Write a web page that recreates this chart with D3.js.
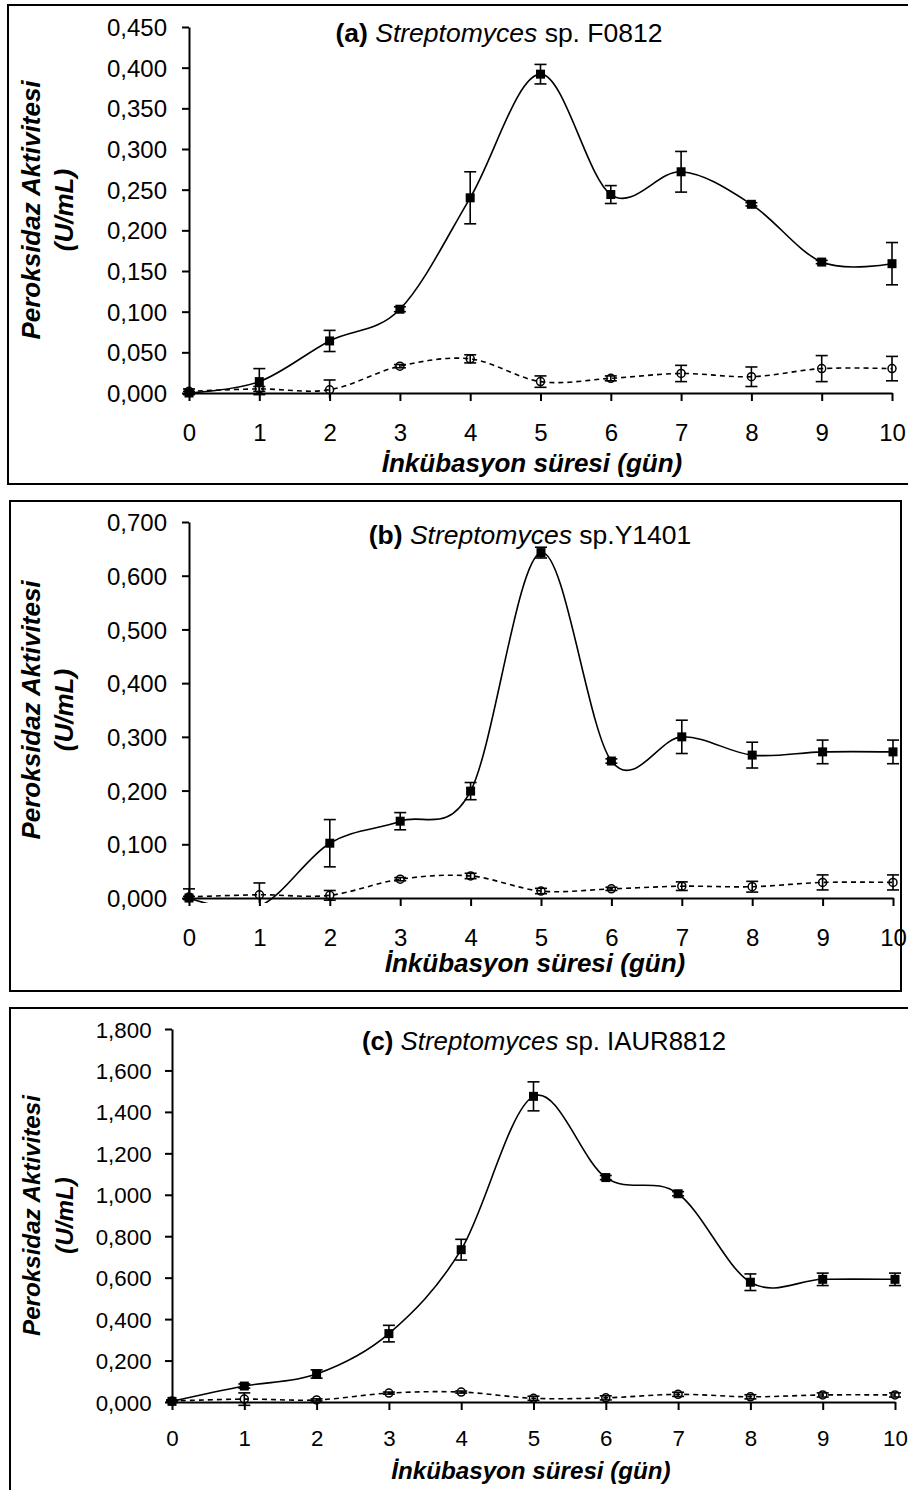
<!DOCTYPE html>
<html lang="en">
  <head>
    <meta charset="utf-8" />
    <title>Peroksidaz Aktivitesi</title>
    <script src="https://d3js.org/d3.v7.min.js"></script>
    <style>
      body {
        margin: 0;
        background-color: #ffffff;
      }
      svg text {
        font-family: "Liberation Sans", Arial, sans-serif;
        fill: #000;
      }
    </style>
  </head>

  <body>
    <div id="chart"></div>

    <script>
      // incubation days
      const days = [0, 1, 2, 3, 4, 5, 6, 7, 8, 9, 10];

      // (a) Streptomyces sp. F0812
      const aFilled = [0.000, 0.014, 0.064, 0.103, 0.240, 0.392, 0.244, 0.272, 0.232, 0.161, 0.159];
      const aFilledErr = [0.002, 0.016, 0.013, 0.003, 0.032, 0.012, 0.011, 0.025, 0.002, 0.002, 0.026];
      const aOpen = [0.002, 0.005, 0.004, 0.033, 0.042, 0.014, 0.018, 0.024, 0.020, 0.030, 0.030];
      const aOpenErr = [0.003, 0.003, 0.012, 0.002, 0.005, 0.007, 0.003, 0.010, 0.012, 0.016, 0.015];

      // (b) Streptomyces sp. Y1401
      const bFilled = [0.000, -0.015, 0.102, 0.143, 0.199, 0.643, 0.255, 0.300, 0.266, 0.272, 0.272];
      const bFilledErr = [0.003, 0.003, 0.044, 0.016, 0.016, 0.010, 0.004, 0.031, 0.024, 0.022, 0.022];
      const bOpen = [0.002, 0.006, 0.005, 0.035, 0.041, 0.013, 0.017, 0.022, 0.021, 0.029, 0.029];
      const bOpenErr = [0.015, 0.022, 0.009, 0.003, 0.005, 0.005, 0.003, 0.008, 0.010, 0.014, 0.014];

      // (c) Streptomyces sp. IAUR8812
      const cFilled = [0.003, 0.077, 0.135, 0.330, 0.735, 1.475, 1.083, 1.005, 0.578, 0.592, 0.592];
      const cFilledErr = [0.005, 0.010, 0.020, 0.040, 0.050, 0.070, 0.010, 0.010, 0.040, 0.030, 0.030];
      const cOpen = [0.005, 0.014, 0.010, 0.043, 0.048, 0.018, 0.020, 0.037, 0.025, 0.034, 0.034];
      const cOpenErr = [0.005, 0.030, 0.005, 0.005, 0.005, 0.010, 0.010, 0.010, 0.010, 0.010, 0.010];

      const yLabel1 = "Peroksidaz Aktivitesi";
      const yLabel2 = "(U/mL)";
      const xLabel = "İnkübasyon süresi (gün)";

      const panels = [
        {
          id: "a", tag: "(a)", strain: "sp. F0812",
          filled: aFilled, filledErr: aFilledErr, open: aOpen, openErr: aOpenErr,
          yMax: 0.45, yStep: 0.05,
          frame: { x: 8, y: 5, w: 910, h: 479 },
          left: 189, right: 892, top: 27, bottom: 393,
          titleX: 499, titleY: 42, titleFs: 26.5, xTitleX: 532, xTitleY: 472,
          fs: 1
        },
        {
          id: "b", tag: "(b)", strain: "sp.Y1401",
          filled: bFilled, filledErr: bFilledErr, open: bOpen, openErr: bOpenErr,
          yMax: 0.7, yStep: 0.1,
          frame: { x: 10, y: 501, w: 891, h: 490 },
          left: 189, right: 893, top: 522, bottom: 898,
          titleX: 530, titleY: 544, titleFs: 26.5, xTitleX: 535, xTitleY: 972,
          fs: 1
        },
        {
          id: "c", tag: "(c)", strain: "sp. IAUR8812",
          filled: cFilled, filledErr: cFilledErr, open: cOpen, openErr: cOpenErr,
          yMax: 1.8, yStep: 0.2,
          frame: { x: 10, y: 1008, w: 910, h: 500 },
          left: 172, right: 895, top: 1029, bottom: 1402,
          titleX: 544, titleY: 1050, titleFs: 25.8, xTitleX: 531, xTitleY: 1479,
          fs: 0.93
        }
      ];

      const svg = d3
        .select("#chart")
        .append("svg")
        .attr("width", 908)
        .attr("height", 1490);

      const fmt = (v) => d3.format(".3f")(v).replace(".", ",");

      panels.forEach((p) => {
        const g = svg.append("g");

        // outer frame
        g.append("rect")
          .attr("x", p.frame.x)
          .attr("y", p.frame.y)
          .attr("width", p.frame.w)
          .attr("height", p.frame.h)
          .attr("fill", "none")
          .attr("stroke", "#000")
          .attr("stroke-width", 2);

        const x = d3.scaleLinear().domain([0, 10]).range([p.left, p.right]);
        const y = d3.scaleLinear().domain([0, p.yMax]).range([p.bottom, p.top]);

        const yTicks = d3.range(0, p.yMax + p.yStep / 2, p.yStep);
        const tickFont = 24 * p.fs + "px";

        // y axis
        const yAxis = g
          .append("g")
          .attr("transform", `translate(${p.left},0)`)
          .call(d3.axisLeft(y).tickValues(yTicks).tickSize(7).tickSizeOuter(0).tickFormat(fmt));
        yAxis.select(".domain").attr("stroke-width", 2);
        yAxis.selectAll(".tick line").attr("stroke-width", 2);
        yAxis.selectAll(".tick text")
          .attr("x", -22 * p.fs)
          .attr("dy", "0.36em")
          .style("font-size", tickFont)
          .style("font-family", "'Liberation Sans', Arial, sans-serif");

        // x axis
        const xAxis = g
          .append("g")
          .attr("transform", `translate(0,${p.bottom})`)
          .call(d3.axisBottom(x).tickValues(days).tickSize(8).tickSizeOuter(0).tickFormat(d3.format("d")));
        xAxis.select(".domain").attr("stroke-width", 2);
        xAxis.selectAll(".tick line").attr("stroke-width", 2);
        xAxis.selectAll(".tick text")
          .attr("y", 39 * p.fs)
          .attr("dy", "0.36em")
          .style("font-size", tickFont)
          .style("font-family", "'Liberation Sans', Arial, sans-serif");

        // title
        const title = g.append("text")
          .attr("x", p.titleX)
          .attr("y", p.titleY)
          .attr("text-anchor", "middle")
          .style("font-size", p.titleFs + "px");
        title.append("tspan").style("font-weight", "bold").text(p.tag + " ");
        title.append("tspan").style("font-style", "italic").text("Streptomyces");
        title.append("tspan").text("  " + p.strain);

        // y axis title (two lines)
        const yc = (p.top + p.bottom) / 2;
        [[yLabel1, 30], [yLabel2, 63]].forEach(([txt, cx]) => {
          g.append("text")
            .attr("transform", `translate(${cx + 9.5},${yc}) rotate(-90)`)
            .attr("text-anchor", "middle")
            .style("font-size", 26 * p.fs + "px")
            .style("font-weight", "bold")
            .style("font-style", "italic")
            .text(txt);
        });

        // x axis title
        g.append("text")
          .attr("x", p.xTitleX)
          .attr("y", p.xTitleY)
          .attr("text-anchor", "middle")
          .style("font-size", 26 * p.fs + "px")
          .style("font-weight", "bold")
          .style("font-style", "italic")
          .text(xLabel);

        // plot area clip (marks below the axis are cut off a few px under it)
        g.append("clipPath")
          .attr("id", "clip-" + p.id)
          .append("rect")
          .attr("x", p.left - 8)
          .attr("y", p.top - 8)
          .attr("width", p.right - p.left + 16)
          .attr("height", p.bottom - p.top + 13);

        const plot = g.append("g").attr("clip-path", `url(#clip-${p.id})`);

        const filledPts = days.map((d, i) => ({ d, v: p.filled[i], e: p.filledErr[i] }));
        const openPts = days.map((d, i) => ({ d, v: p.open[i], e: p.openErr[i] }));

        const line = d3
          .line()
          .x((d) => x(d.d))
          .y((d) => y(d.v))
          .curve(d3.curveCardinal.tension(0));

        plot.append("path")
          .datum(filledPts)
          .attr("d", line)
          .attr("fill", "none")
          .attr("stroke", "#000")
          .attr("stroke-width", 1.6);

        plot.append("path")
          .datum(openPts)
          .attr("d", line)
          .attr("fill", "none")
          .attr("stroke", "#000")
          .attr("stroke-width", 1.6)
          .attr("stroke-dasharray", "5,4");

        // error bars (markers below zero are hidden)
        const cap = 6;
        [filledPts, openPts].forEach((pts) => {
          const eb = plot.append("g").attr("stroke", "#000").attr("stroke-width", 1.6);
          pts.filter((d) => d.v >= 0).forEach((d) => {
            const y1 = y(d.v + d.e), y0 = y(d.v - d.e), cx = x(d.d);
            eb.append("line").attr("x1", cx).attr("x2", cx).attr("y1", y1).attr("y2", y0);
            eb.append("line").attr("x1", cx - cap).attr("x2", cx + cap).attr("y1", y1).attr("y2", y1);
            eb.append("line").attr("x1", cx - cap).attr("x2", cx + cap).attr("y1", y0).attr("y2", y0);
          });
        });

        // markers
        plot.append("g")
          .selectAll("rect")
          .data(filledPts.filter((d) => d.v >= 0))
          .join("rect")
          .attr("x", (d) => x(d.d) - 4.5)
          .attr("y", (d) => y(d.v) - 4.5)
          .attr("width", 9)
          .attr("height", 9)
          .attr("fill", "#000");

        plot.append("g")
          .selectAll("circle")
          .data(openPts)
          .join("circle")
          .attr("cx", (d) => x(d.d))
          .attr("cy", (d) => y(d.v))
          .attr("r", 4)
          .attr("fill", "none")
          .attr("stroke", "#000")
          .attr("stroke-width", 1.5);
      });
    </script>
  </body>
</html>
